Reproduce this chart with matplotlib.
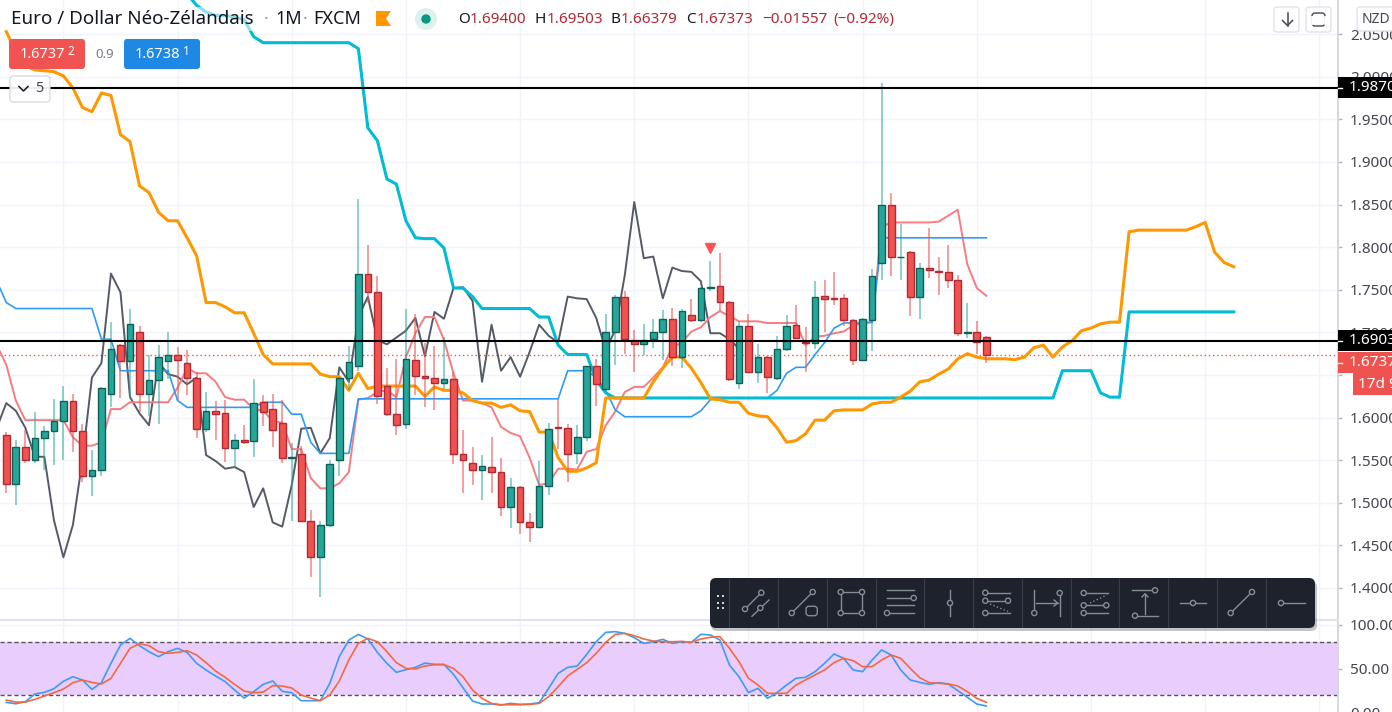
import numpy as np
import matplotlib
matplotlib.use("Agg")
import matplotlib.pyplot as plt
from matplotlib.patches import FancyBboxPatch, Circle, Polygon, Rectangle

plt.rcParams['font.family'] = ['Noto Sans', 'DejaVu Sans']

# Candles, one entry per month
opens = [1.580, 1.522, 1.565, 1.550, 1.576, 1.584, 1.596, 1.619, 1.584, 1.531,
         1.538, 1.628, 1.685, 1.666, 1.701, 1.628, 1.644, 1.666, 1.674, 1.664,
         1.646, 1.587, 1.608, 1.605, 1.564, 1.574, 1.572, 1.618, 1.610, 1.594,
         1.553, 1.557, 1.479, 1.436, 1.474, 1.550, 1.646, 1.660, 1.768, 1.747,
         1.637, 1.604, 1.592, 1.668, 1.649, 1.647, 1.641, 1.645, 1.557, 1.547,
         1.539, 1.542, 1.536, 1.495, 1.518, 1.477, 1.471, 1.520, 1.589, 1.588,
         1.558, 1.577, 1.660, 1.634, 1.701, 1.742, 1.691, 1.686, 1.692, 1.701,
         1.716, 1.671, 1.720, 1.715, 1.752, 1.754, 1.736, 1.640, 1.707, 1.654,
         1.671, 1.646, 1.680, 1.709, 1.689, 1.688, 1.743, 1.740, 1.740, 1.714,
         1.667, 1.714, 1.781, 1.850, 1.788, 1.794, 1.741, 1.775, 1.772, 1.771,
         1.761, 1.699, 1.701, 1.694]
closes = [1.522, 1.565, 1.550, 1.576, 1.584, 1.596, 1.619, 1.584, 1.531, 1.538,
          1.635, 1.680, 1.666, 1.710, 1.628, 1.644, 1.671, 1.674, 1.667, 1.646,
          1.587, 1.608, 1.604, 1.564, 1.574, 1.571, 1.617, 1.607, 1.586, 1.553,
          1.554, 1.479, 1.436, 1.474, 1.546, 1.646, 1.665, 1.768, 1.747, 1.625,
          1.604, 1.591, 1.669, 1.649, 1.647, 1.640, 1.645, 1.557, 1.550, 1.539,
          1.543, 1.536, 1.495, 1.518, 1.477, 1.471, 1.520, 1.587, 1.588, 1.557,
          1.577, 1.660, 1.639, 1.701, 1.742, 1.692, 1.686, 1.691, 1.701, 1.716,
          1.671, 1.725, 1.715, 1.752, 1.753, 1.736, 1.645, 1.707, 1.654, 1.671,
          1.648, 1.680, 1.708, 1.693, 1.687, 1.741, 1.739, 1.739, 1.715, 1.667,
          1.716, 1.766, 1.850, 1.788, 1.789, 1.741, 1.776, 1.773, 1.771, 1.761,
          1.699, 1.700, 1.689, 1.674]
highs = [1.583, 1.574, 1.585, 1.606, 1.590, 1.622, 1.637, 1.628, 1.592, 1.562,
         1.636, 1.712, 1.686, 1.728, 1.708, 1.673, 1.685, 1.700, 1.683, 1.679,
         1.654, 1.630, 1.619, 1.621, 1.581, 1.591, 1.645, 1.627, 1.628, 1.621,
         1.570, 1.567, 1.492, 1.479, 1.550, 1.648, 1.684, 1.856, 1.802, 1.766,
         1.658, 1.669, 1.728, 1.722, 1.688, 1.684, 1.695, 1.654, 1.585, 1.565,
         1.556, 1.577, 1.552, 1.529, 1.520, 1.488, 1.549, 1.594, 1.622, 1.593,
         1.591, 1.660, 1.669, 1.722, 1.744, 1.748, 1.703, 1.710, 1.716, 1.726,
         1.729, 1.728, 1.739, 1.753, 1.784, 1.793, 1.737, 1.712, 1.721, 1.686,
         1.672, 1.696, 1.720, 1.732, 1.706, 1.760, 1.762, 1.771, 1.745, 1.716,
         1.717, 1.774, 1.993, 1.863, 1.827, 1.796, 1.781, 1.823, 1.788, 1.802,
         1.767, 1.735, 1.713, 1.696]
lows = [1.512, 1.497, 1.547, 1.547, 1.538, 1.544, 1.550, 1.560, 1.524, 1.508,
        1.531, 1.613, 1.623, 1.623, 1.606, 1.602, 1.592, 1.645, 1.621, 1.626,
        1.576, 1.583, 1.574, 1.548, 1.542, 1.569, 1.554, 1.590, 1.565, 1.547,
        1.479, 1.479, 1.413, 1.389, 1.471, 1.531, 1.632, 1.655, 1.734, 1.616,
        1.602, 1.579, 1.587, 1.626, 1.612, 1.609, 1.633, 1.546, 1.512, 1.521,
        1.503, 1.511, 1.484, 1.470, 1.463, 1.454, 1.470, 1.509, 1.563, 1.524,
        1.545, 1.572, 1.614, 1.630, 1.662, 1.675, 1.653, 1.673, 1.682, 1.668,
        1.661, 1.658, 1.712, 1.712, 1.749, 1.725, 1.643, 1.633, 1.653, 1.641,
        1.629, 1.644, 1.678, 1.692, 1.653, 1.681, 1.701, 1.732, 1.708, 1.662,
        1.666, 1.678, 1.762, 1.766, 1.761, 1.719, 1.716, 1.764, 1.744, 1.752,
        1.696, 1.693, 1.675, 1.664]

# Ichimoku lines, each with the bar index it starts on
tenkan_start = -1
tenkan = [1.685, 1.662, 1.620, 1.597, 1.597, 1.597, 1.597, 1.597, 1.577, 1.567,
          1.567, 1.571, 1.610, 1.610, 1.618, 1.618, 1.618, 1.618, 1.618, 1.635,
          1.658, 1.652, 1.652, 1.642, 1.624, 1.621, 1.621, 1.610, 1.608, 1.596,
          1.594, 1.563, 1.563, 1.529, 1.517, 1.517, 1.523, 1.536, 1.621, 1.623,
          1.630, 1.632, 1.624, 1.671, 1.699, 1.718, 1.718, 1.691, 1.652, 1.620,
          1.620, 1.617, 1.612, 1.589, 1.582, 1.578, 1.553, 1.521, 1.523, 1.540,
          1.540, 1.539, 1.560, 1.563, 1.591, 1.607, 1.630, 1.636, 1.636, 1.647,
          1.659, 1.683, 1.688, 1.701, 1.706, 1.718, 1.725, 1.719, 1.713, 1.713,
          1.713, 1.711, 1.711, 1.711, 1.711, 1.685, 1.695, 1.696, 1.699, 1.701,
          1.708, 1.711, 1.712, 1.824, 1.829, 1.829, 1.829, 1.829, 1.829, 1.830,
          1.837, 1.844, 1.780, 1.752, 1.743]
kijun_start = -1
kijun = [1.760, 1.735, 1.728, 1.728, 1.728, 1.728, 1.728, 1.728, 1.728, 1.728,
         1.728, 1.692, 1.692, 1.655, 1.655, 1.655, 1.655, 1.655, 1.655, 1.620,
         1.612, 1.612, 1.612, 1.612, 1.612, 1.612, 1.612, 1.612, 1.618, 1.618,
         1.618, 1.604, 1.604, 1.571, 1.558, 1.558, 1.558, 1.558, 1.622, 1.622,
         1.622, 1.622, 1.622, 1.622, 1.622, 1.622, 1.622, 1.622, 1.622, 1.622,
         1.622, 1.622, 1.622, 1.622, 1.622, 1.622, 1.622, 1.622, 1.622, 1.622,
         1.655, 1.655, 1.655, 1.647, 1.632, 1.609, 1.601, 1.601, 1.601, 1.601,
         1.601, 1.601, 1.601, 1.601, 1.608, 1.621, 1.623, 1.623, 1.623, 1.623,
         1.623, 1.623, 1.632, 1.652, 1.659, 1.659, 1.674, 1.688, 1.705, 1.711,
         1.711, 1.711, 1.712, 1.811, 1.811, 1.811, 1.811, 1.811, 1.811, 1.811,
         1.811, 1.811, 1.811, 1.811, 1.811]
chikou_start = -1
chikou = [1.588, 1.617, 1.608, 1.588, 1.554, 1.554, 1.480, 1.436, 1.474, 1.550,
          1.647, 1.664, 1.769, 1.747, 1.624, 1.605, 1.591, 1.665, 1.651, 1.648,
          1.639, 1.647, 1.556, 1.549, 1.540, 1.542, 1.536, 1.495, 1.517, 1.477,
          1.472, 1.521, 1.587, 1.588, 1.558, 1.576, 1.659, 1.642, 1.718, 1.742,
          1.691, 1.686, 1.694, 1.702, 1.717, 1.672, 1.724, 1.716, 1.752, 1.753,
          1.737, 1.642, 1.709, 1.655, 1.671, 1.648, 1.677, 1.709, 1.696, 1.688,
          1.742, 1.740, 1.739, 1.717, 1.679, 1.703, 1.767, 1.853, 1.787, 1.789,
          1.740, 1.776, 1.772, 1.771, 1.760, 1.699, 1.699, 1.692, 1.681]
senkou_a_start = 0
senkou_a = [2.053, 2.029, 2.013, 2.008, 2.007, 2.006, 2.001, 1.987, 1.964, 1.959,
            1.981, 1.978, 1.932, 1.924, 1.872, 1.864, 1.841, 1.831, 1.831, 1.811,
            1.790, 1.735, 1.735, 1.730, 1.723, 1.723, 1.699, 1.674, 1.663, 1.663,
            1.663, 1.663, 1.663, 1.651, 1.648, 1.648, 1.632, 1.652, 1.634, 1.637,
            1.637, 1.637, 1.637, 1.637, 1.625, 1.636, 1.632, 1.632, 1.629, 1.620,
            1.617, 1.617, 1.612, 1.615, 1.608, 1.607, 1.583, 1.583, 1.553, 1.537,
            1.537, 1.541, 1.547, 1.623, 1.623, 1.623, 1.623, 1.623, 1.642, 1.658,
            1.671, 1.671, 1.658, 1.641, 1.622, 1.621, 1.618, 1.618, 1.605, 1.602,
            1.601, 1.588, 1.571, 1.573, 1.581, 1.597, 1.597, 1.608, 1.609, 1.609,
            1.609, 1.616, 1.618, 1.618, 1.624, 1.631, 1.642, 1.644, 1.651, 1.657,
            1.669, 1.675, 1.671, 1.669, 1.669, 1.669, 1.668, 1.671, 1.682, 1.685,
            1.671, 1.683, 1.690, 1.702, 1.705, 1.710, 1.712, 1.712, 1.818, 1.820,
            1.820, 1.820, 1.820, 1.820, 1.820, 1.824, 1.829, 1.794, 1.782, 1.777]
senkou_b_start = 19
senkou_b = [2.097, 2.084, 2.076, 2.072, 2.072, 2.070, 2.067, 2.047, 2.040, 2.040,
            2.040, 2.040, 2.040, 2.040, 2.040, 2.040, 2.040, 2.040, 2.033, 1.940,
            1.925, 1.880, 1.874, 1.831, 1.811, 1.810, 1.810, 1.799, 1.752, 1.752,
            1.742, 1.728, 1.728, 1.728, 1.728, 1.728, 1.728, 1.718, 1.718, 1.685,
            1.674, 1.674, 1.674, 1.644, 1.629, 1.623, 1.623, 1.623, 1.623, 1.623,
            1.623, 1.623, 1.623, 1.623, 1.623, 1.623, 1.623, 1.623, 1.623, 1.623,
            1.623, 1.623, 1.623, 1.623, 1.623, 1.623, 1.623, 1.623, 1.623, 1.623,
            1.623, 1.623, 1.623, 1.623, 1.623, 1.623, 1.623, 1.623, 1.623, 1.623,
            1.623, 1.623, 1.623, 1.623, 1.623, 1.623, 1.623, 1.623, 1.623, 1.623,
            1.623, 1.623, 1.655, 1.655, 1.655, 1.655, 1.629, 1.624, 1.624, 1.724,
            1.724, 1.724, 1.724, 1.724, 1.724, 1.724, 1.724, 1.724, 1.724, 1.724,
            1.724]

# Stochastic pane
stoch_k = [11.6, 10.0, 12.3, 21.1, 23.0, 27.2, 35.6, 40.9, 37.1, 26.4,
           34.1, 56.2, 77.1, 84.7, 76.3, 69.5, 63.8, 69.5, 73.3, 68.7,
           56.2, 48.5, 41.7, 35.2, 25.7, 16.5, 23.8, 32.1, 36.0, 24.2,
           22.6, 13.5, 13.5, 13.5, 33.3, 63.8, 82.8, 89.3, 84.0, 68.7,
           56.2, 45.9, 48.9, 51.6, 56.5, 55.0, 55.0, 43.6, 28.3, 13.1,
           9.7, 9.7, 8.5, 10.4, 9.3, 9.7, 11.2, 27.6, 44.7, 51.6,
           53.1, 66.4, 80.9, 91.6, 92.4, 90.4, 85.5, 79.0, 80.9, 83.6,
           79.0, 80.9, 80.2, 89.3, 88.6, 82.9, 54.3, 41.0, 22.7, 27.6,
           16.2, 22.7, 31.4, 39.1, 40.2, 46.7, 56.2, 66.9, 61.9, 48.6,
           46.7, 60.0, 71.5, 65.7, 48.6, 37.2, 34.5, 32.2, 34.1, 32.6,
           25.0, 17.4, 9.7, 7.4]
stoch_d = [14.2, 11.9, 11.9, 15.0, 18.8, 22.6, 26.8, 34.1, 37.1, 34.4,
           32.5, 39.0, 56.2, 73.3, 78.6, 76.3, 69.5, 67.6, 68.7, 70.6,
           65.7, 56.9, 47.4, 40.2, 32.1, 24.5, 22.6, 23.4, 30.6, 30.2,
           28.0, 20.0, 16.5, 13.5, 20.0, 36.0, 60.0, 79.0, 84.7, 80.9,
           69.5, 56.9, 50.4, 49.7, 53.1, 54.6, 54.6, 50.4, 40.9, 25.7,
           16.1, 10.4, 8.9, 8.9, 8.9, 9.3, 10.4, 18.1, 29.5, 41.7,
           49.3, 56.9, 67.6, 80.2, 89.3, 90.4, 87.8, 84.0, 81.7, 80.9,
           80.9, 81.3, 80.2, 84.0, 86.0, 86.7, 73.4, 58.1, 39.1, 31.4,
           21.9, 21.9, 21.9, 31.4, 37.2, 42.9, 48.6, 57.0, 61.9, 59.3,
           52.4, 52.4, 60.0, 65.7, 61.9, 50.5, 39.8, 34.1, 33.4, 32.6,
           30.3, 23.8, 16.2, 11.6]

price_ticks = [1.40, 1.45, 1.50, 1.55, 1.60, 1.65, 1.70, 1.75, 1.80, 1.85, 1.90, 1.95, 2.00, 2.05]
stoch_ticks = [0, 50, 100]
grid_bars = [6, 18, 30, 42, 54, 66, 78, 90, 102, 114, 126, 138]
level_high = 1.9870
level_low = 1.6903
last_close = 1.6737

UP = "#26a69a"
UP_EDGE = "#0f5f55"
DOWN = "#ef5350"
DOWN_EDGE = "#b22833"
GRID = "#f0f3fa"
TEXT = "#434651"
W, H = 1392, 712

fig = plt.figure(figsize=(W / 100, H / 100), dpi=100, facecolor="white")
ax = fig.add_axes([0, (H - 619) / H, 1338 / W, 619 / H])
ax2 = fig.add_axes([0, (H - 714) / H, 1338 / W, 93 / H])


def style_pane(a, ticks, fmt):
    a.set_xlim(-0.662, 139.96)
    a.set_xticks(grid_bars)
    a.set_yticks(ticks)
    a.set_yticklabels([fmt % t for t in ticks])
    a.grid(True, color=GRID, linewidth=1)
    a.set_axisbelow(True)
    a.yaxis.tick_right()
    a.tick_params(axis="x", length=0, labelbottom=False)
    a.tick_params(axis="y", length=3, width=1, color="#b2b5be", pad=5.5,
                  labelcolor=TEXT, labelsize=11)
    for side in ["top", "left", "bottom"]:
        a.spines[side].set_visible(False)
    a.spines["right"].set_color("#d6d8e0")
    a.spines["right"].set_linewidth(1.4)


# Price pane
style_pane(ax, price_ticks, "%.4f")
ax.set_ylim(1.3636, 2.0901)

ax.plot(np.arange(len(chikou)) + chikou_start, chikou, color="#565a66", lw=1.4, zorder=2)
ax.plot(np.arange(len(tenkan)) + tenkan_start, tenkan, color="#f77c80", lw=1.4, zorder=2)
ax.plot(np.arange(len(kijun)) + kijun_start, kijun, color="#2f9bf4", lw=1.2, zorder=2)
ax.plot(np.arange(len(senkou_b)) + senkou_b_start, senkou_b, color="#00bcd4", lw=2.2, zorder=2.2)
ax.plot(np.arange(len(senkou_a)) + senkou_a_start, senkou_a, color="#ff9800", lw=2.2, zorder=2.3)

bars = np.arange(len(opens))
o = np.array(opens)
c = np.array(closes)
up = c >= o
ax.vlines(bars[up], np.array(lows)[up], np.array(highs)[up], color=UP, alpha=0.6, lw=1.2, zorder=3)
ax.vlines(bars[~up], np.array(lows)[~up], np.array(highs)[~up], color=DOWN, alpha=0.65, lw=1.2, zorder=3)
ax.bar(bars[up], (c - o)[up], bottom=o[up], width=0.7, color=UP, edgecolor=UP_EDGE, linewidth=1, zorder=3.5)
ax.bar(bars[~up], (c - o)[~up], bottom=o[~up], width=0.7, color=DOWN, edgecolor=DOWN_EDGE, linewidth=1, zorder=3.5)

ax.plot([74], [1.799], marker="v", color="#ff5252", markersize=7.5, zorder=4)
ax.axhline(last_close, color=DOWN, lw=1, ls=(0, (1, 2)), zorder=1.5)
ax.axhline(level_high, color="black", lw=1.5, zorder=5)
ax.axhline(level_low, color="black", lw=1.5, zorder=5)

# Stochastic pane
style_pane(ax2, stoch_ticks, "%.2f")
ax2.set_ylim(-1.71, 104.57)
ax2.axhspan(20, 80, color="#e9cefd", lw=0, zorder=1)
ax2.axhline(80, color="#555555", lw=1, ls=(0, (3, 2)), zorder=2)
ax2.axhline(20, color="#555555", lw=1, ls=(0, (3, 2)), zorder=2)
ax2.plot(bars, stoch_k, color="#3d9bf5", lw=1.2, zorder=3)
ax2.plot(bars, stoch_d, color="#f4683f", lw=1.2, zorder=3.1)

# Everything below is chart furniture placed in pixels
ui = fig.add_axes([0, 0, 1, 1], zorder=10)
ui.set_xlim(0, W)
ui.set_ylim(H, 0)
ui.axis("off")
ui.patch.set_alpha(0)

ui.plot([0, 1338], [620, 620], color="#e0e3eb", lw=1.5)


def badge(x0, y0, x1, y1, color, ec="none", r=3, zorder=1, alpha=1):
    ui.add_patch(FancyBboxPatch((x0 + r, y0 + r), x1 - x0 - 2 * r, y1 - y0 - 2 * r,
                                boxstyle="round,pad=%d,rounding_size=%d" % (r, r),
                                fc=color, ec=ec, lw=1, zorder=zorder, alpha=alpha))


# Header
ui.text(11, 19, "Euro / Dollar Néo-Zélandais", fontsize=13.5, color="#131722",
        va="center", bbox=dict(fc="white", ec="none", alpha=0.55, pad=2))
for x, s in [(264, "·"), (275, "1M"), (303, "·"), (313, "FXCM")]:
    ui.text(x, 19, s, fontsize=13, color="#131722" if s != "·" else "#9598a1", va="center")
ui.add_patch(Polygon([(376, 11), (391, 11), (386, 18.5), (391, 26), (376, 26)], fc="#ff9800", ec="none"))
ui.add_patch(Circle((426, 19), 11, fc="#ddf2ef", ec="none"))
ui.add_patch(Circle((426, 19), 4.7, fc="#089981", ec="none"))
for x, s in [(458, "O"), (534.5, "H"), (611, "B"), (686, "C")]:
    ui.text(x, 19.5, s, fontsize=11, color="#131722", va="center")
for x, s in [(470, "1.69400"), (546.5, "1.69503"), (621, "1.66379"), (697, "1.67373"),
             (762, "−0.01557"), (833, "(−0.92%)")]:
    ui.text(x, 19.5, s, fontsize=11, color="#b22833", va="center")

# Sell / buy badges
badge(9, 39, 85, 69, "#f05350")
ui.text(20, 54.5, "1.6737", fontsize=10.5, color="white", fontweight="bold", va="center")
ui.text(67, 51.5, "2", fontsize=8.5, color="white", fontweight="bold", va="center")
ui.text(95, 54.5, "0.9", fontsize=9.5, color="#787b86", va="center")
badge(124, 39, 200, 69, "#1e88e5")
ui.text(135, 54.5, "1.6738", fontsize=10.5, color="white", fontweight="bold", va="center")
ui.text(183, 51.5, "1", fontsize=8.5, color="white", fontweight="bold", va="center")

# Collapsed indicator count
badge(10, 76, 50, 102, "white", ec="#d6d8e0", zorder=3, alpha=0.92)
ui.plot([19, 23.5, 28], [86.5, 91, 86.5], color="#131722", lw=1.1, zorder=4)
ui.text(35, 89, "5", fontsize=10.5, color=TEXT, va="center", zorder=4)

# Top right buttons
badge(1274, 7, 1299, 32, "white", ec="#e0e3eb")
ui.plot([1287.5, 1287.5], [13, 25.5], color=TEXT, lw=1.1, zorder=2)
ui.plot([1282.5, 1287.5, 1292.5], [20.5, 25.5, 20.5], color=TEXT, lw=1.1, zorder=2)
badge(1306, 7, 1331, 32, "white", ec="#e0e3eb")
badge(1312, 13, 1325, 26, "none", ec=TEXT, zorder=2, r=3)
ui.plot([1312, 1312], [16.5, 22.5], color="white", lw=2, zorder=3)
ui.plot([1325, 1325], [16.5, 22.5], color="white", lw=2, zorder=3)
badge(1357, 7, 1400, 31, "white", ec="#e0e3eb")
ui.text(1362, 19.5, "NZD", fontsize=10, color=TEXT, va="center", zorder=2)

# Price tags on the scale
for y0, y1, color, s in [(77, 98, "black", "1.9870"), (330, 351, "black", "1.6903"),
                         (352, 373, "#ef5350", "1.6737")]:
    ui.add_patch(Rectangle((1338, y0), 54, y1 - y0, fc=color, ec="none", zorder=4))
    ui.plot([1338, 1342], [(y0 + y1) / 2] * 2, color="white", lw=1, zorder=5)
    ui.text(1349, (y0 + y1) / 2, s, fontsize=11, color="white", fontweight="bold", va="center", zorder=5)
ui.add_patch(Rectangle((1353, 373), 39, 22, fc="#ef5350", ec="none", zorder=4))
ui.text(1358, 384, "17d 9", fontsize=11, color="white", fontweight="bold", va="center", zorder=5)

# Drawing toolbar
TB = "#1e222d"
ICON = "#868b98"
badge(711, 581, 1317, 631, "#50535e", zorder=5, alpha=0.35, r=6)
badge(710, 578, 1315, 628, TB, zorder=6, r=6)
for x in [729.3, 778.3, 827.3, 875.7, 924.3, 973.3, 1022.3, 1070.7, 1119.3, 1168.3, 1217.3, 1265.7]:
    ui.plot([x, x], [579, 627], color="#3a3e4a", lw=0.8, zorder=7)
for x in [718.3, 722.7]:
    for y in [596, 602.7, 608.3]:
        ui.add_patch(Rectangle((x - 1, y - 1), 2, 2, fc="#d1d4dc", ec="none", zorder=7))


def seg(*pts, ls="-"):
    ui.plot([p[0] for p in pts], [p[1] for p in pts], color=ICON, lw=1, ls=ls, zorder=7)


def knob(x, y):
    ui.add_patch(Circle((x, y), 2.6, fc=TB, ec=ICON, lw=1, zorder=8))


seg((745, 609), (761.3, 592.7))
seg((752, 616.3), (769, 600))
knob(745, 609); knob(761.3, 592.7); knob(760.3, 608)
seg((791.7, 613), (812.7, 592))
knob(791.7, 613); knob(812.7, 592)
badge(806, 606.3, 817.3, 615.7, TB, ec=ICON, zorder=7)
seg((840.7, 592), (862, 592), (862, 613), (840.7, 613), (840.7, 592))
knob(840.7, 592); knob(862, 592); knob(840.7, 613); knob(862, 613)
seg((886.7, 590.3), (914.3, 590.3))
seg((886.7, 598), (913.7, 598))
seg((886.7, 605.3), (914.3, 605.3))
seg((887, 613), (914.3, 613))
knob(913.7, 598); knob(887, 613)
seg((950, 590), (950, 616))
knob(950, 603)
seg((985.3, 592.7), (1010, 592.7))
seg((985.3, 600.7), (1008, 600.7))
seg((990, 604), (1008, 611.5), ls=":")
seg((985.3, 613), (1010, 613))
knob(985.3, 592.7); knob(985.3, 600.7); knob(1008, 600.7); knob(985.3, 613)
seg((1034.3, 590), (1034.3, 613))
seg((1036, 603), (1057.7, 603))
seg((1054, 600), (1057.7, 603), (1054, 606))
seg((1059.7, 593), (1059.7, 616))
knob(1034.3, 613); knob(1059.7, 593)
seg((1083.7, 593), (1108.3, 593))
seg((1090, 603), (1107, 595), ls=":")
seg((1083.7, 605.3), (1106.3, 605.3))
seg((1083.7, 613), (1108.3, 613))
knob(1083.7, 593); knob(1083.7, 605.3); knob(1106.3, 605.3); knob(1083.7, 613)
seg((1132, 590.3), (1155, 590.3))
seg((1135, 615.7), (1158, 615.7))
seg((1145, 613.7), (1145, 593.7))
seg((1142, 597), (1145, 593.7), (1148, 597))
knob(1155, 590.3); knob(1135, 615.7)
seg((1180, 603), (1206, 603))
knob(1193, 603)
seg((1230.7, 613), (1252, 592))
knob(1230.7, 613); knob(1252, 592)
seg((1281, 603), (1304.7, 603))
knob(1281, 603)

fig.savefig("out.png", dpi=100)
